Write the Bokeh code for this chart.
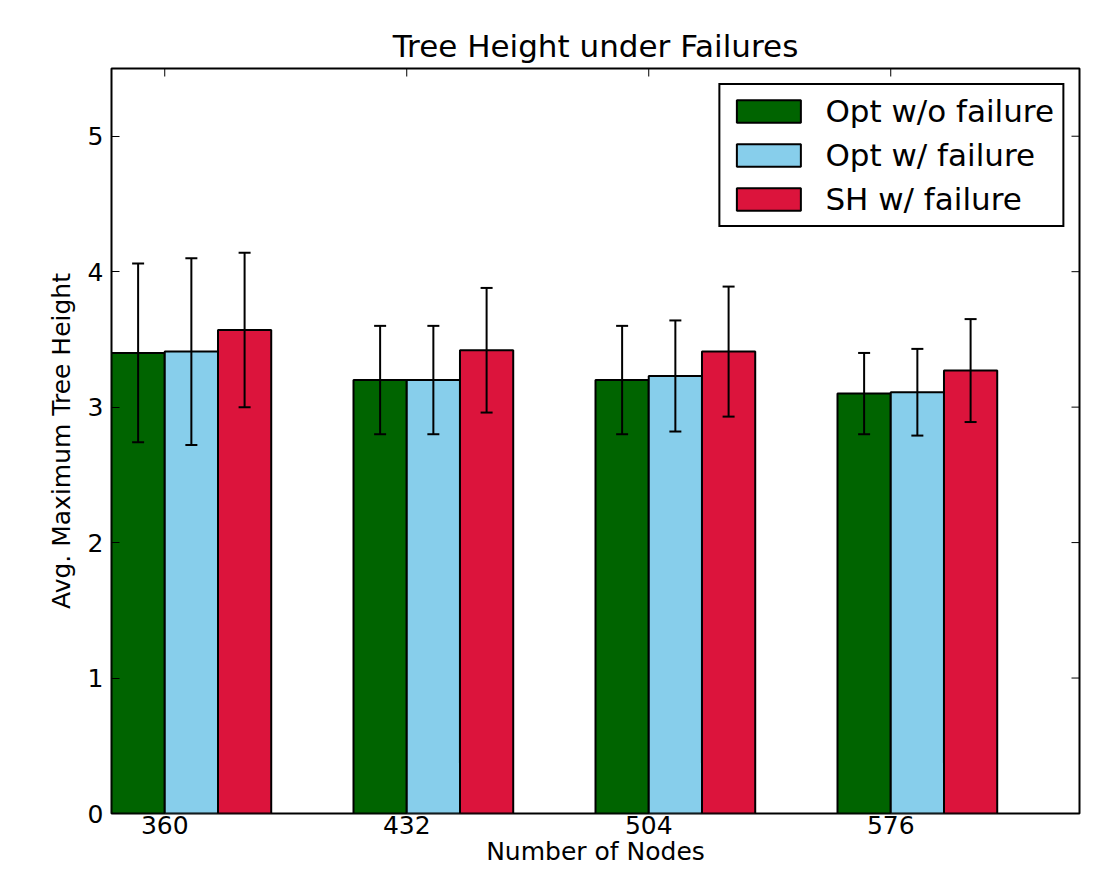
from math import pi
from bokeh.plotting import figure
from bokeh.models import (ColumnDataSource, Range1d, FixedTicker,
                          Whisker, TeeHead, Legend, LegendItem)
from bokeh.embed import file_html
from bokeh.resources import INLINE

# ---- data ----
nodes = ["360", "432", "504", "576"]
series_names = ["Opt w/o failure", "Opt w/ failure", "SH w/ failure"]
colors = ["#006400", "#87CEEB", "#DC143C"]

opt_no_fail = [3.40, 3.20, 3.20, 3.10]
opt_no_fail_err = [0.66, 0.40, 0.40, 0.30]
opt_fail = [3.41, 3.20, 3.23, 3.11]
opt_fail_err = [0.69, 0.40, 0.41, 0.32]
sh_fail = [3.57, 3.42, 3.41, 3.27]
sh_fail_err = [0.57, 0.46, 0.48, 0.38]

y_ticks = [0, 1, 2, 3, 4, 5]
bar_width = 0.22
X_MAX = 4
Y_MAX = 5.5
FONT = "DejaVu Sans"

p = figure(width=1088, height=868,
           x_range=Range1d(0, X_MAX), y_range=Range1d(0, Y_MAX),
           output_backend="svg", toolbar_location=None,
           min_border_left=111, min_border_right=9,
           min_border_top=68, min_border_bottom=40,
           background_fill_color="white", border_fill_color="white")

p.title.text = "Tree Height under Failures"
p.title.align = "center"
p.title.text_font = FONT
p.title.text_font_size = "31px"
p.title.text_font_style = "normal"
p.title.text_color = "black"

p.xgrid.visible = False
p.ygrid.visible = False
p.outline_line_color = "black"
p.outline_line_width = 2
p.outline_line_alpha = 1.0

group_idx = list(range(len(nodes)))
x_tick_vals = [i + bar_width for i in group_idx]

p.xaxis.ticker = FixedTicker(ticks=x_tick_vals)
p.xaxis.major_label_overrides = {t: lab for t, lab in zip(x_tick_vals, nodes)}
p.yaxis.ticker = FixedTicker(ticks=y_ticks)
p.xaxis.axis_label = "Number of Nodes"
p.yaxis.axis_label = "Avg. Maximum Tree Height"

for ax in (p.xaxis[0], p.yaxis[0]):
    ax.axis_line_color = None
    ax.major_tick_in = 8
    ax.major_tick_out = 0
    ax.major_tick_line_color = "black"
    ax.major_tick_line_width = 1
    ax.minor_tick_line_color = None
    ax.major_label_text_font = FONT
    ax.major_label_text_font_size = "25px"
    ax.major_label_text_color = "black"
    ax.axis_label_text_font = FONT
    ax.axis_label_text_font_size = "25px"
    ax.axis_label_text_font_style = "normal"
    ax.axis_label_text_color = "black"

p.xaxis.major_label_standoff = 2
p.xaxis.axis_label_standoff = 0
p.yaxis.major_label_standoff = 8
p.yaxis.axis_label_standoff = 9

# mirrored inward ticks on the top and right edges (clipped to the frame)
p.scatter(x=x_tick_vals, y=[Y_MAX] * len(x_tick_vals), marker="dash", size=16,
          angle=pi / 2, line_color="black", line_width=1)
p.scatter(x=[X_MAX] * len(y_ticks), y=y_ticks, marker="dash", size=16,
          line_color="black", line_width=1)

series = [(opt_no_fail, opt_no_fail_err), (opt_fail, opt_fail_err), (sh_fail, sh_fail_err)]
items = []
whiskers = []
for k, (vals, errs) in enumerate(series):
    xs = [i + k * bar_width + bar_width / 2 for i in group_idx]
    src = ColumnDataSource(dict(
        x=xs, top=vals,
        lower=[v - e for v, e in zip(vals, errs)],
        upper=[v + e for v, e in zip(vals, errs)],
    ))
    r = p.vbar(x="x", top="top", bottom=0, width=bar_width, source=src,
               fill_color=colors[k], line_color="black", line_width=2)
    items.append(LegendItem(label=series_names[k], renderers=[r]))
    w = Whisker(base="x", lower="lower", upper="upper", source=src,
                line_color="black", line_width=2, level="annotation",
                upper_head=TeeHead(size=12, line_color="black", line_width=2),
                lower_head=TeeHead(size=12, line_color="black", line_width=2))
    whiskers.append(w)

for w in whiskers:
    p.add_layout(w)

legend = Legend(items=items, location="top_right", margin=15, padding=8,
                spacing=8, glyph_width=80, glyph_height=28, label_standoff=17,
                label_text_font=FONT, label_text_font_size="31px",
                label_text_color="black",
                border_line_color="black", border_line_width=2, border_line_alpha=1.0,
                background_fill_color="white", background_fill_alpha=1.0)
p.add_layout(legend)

open("out.html", "w").write(file_html(p, INLINE))
